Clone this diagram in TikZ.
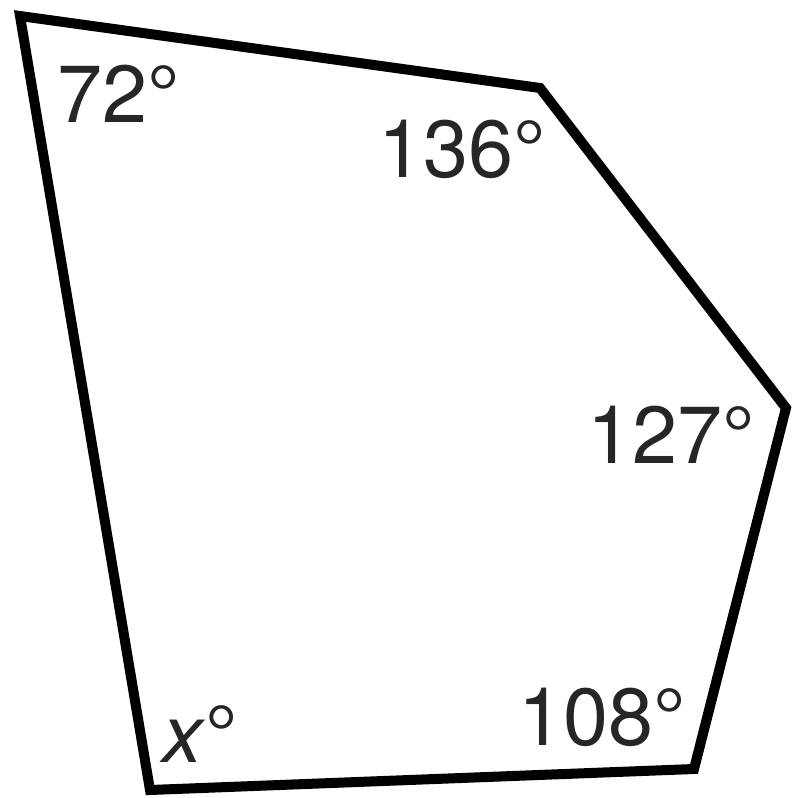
\documentclass[tikz,border=0pt]{standalone}
\usepackage{fontspec}
\setmainfont{TeX Gyre Heros}
\begin{document}
\begin{tikzpicture}[x=1pt,y=-1pt,
  lbl/.style={anchor=base west,inner sep=0pt,font=\fontsize{81}{84}\selectfont,text=black!85}]
\useasboundingbox (0,0) rectangle (793,798);
\coordinate (A) at (20,16);
\coordinate (B) at (540,88);
\coordinate (C) at (786,408);
\coordinate (D) at (694,769);
\coordinate (E) at (150,790);
\draw[line width=10pt,line join=miter] (A) -- (B) -- (C) -- (D) -- (E) -- cycle;
\node[lbl] (a) at (57,122) {72°};
\node[lbl] (b) at (378,177) {136°};
\node[lbl] (c) at (587,463) {127°};
\node[lbl] (d) at (518,745) {108°};
\node[lbl] (e) at (162,762) {\textit{x}°};
\end{tikzpicture}
\end{document}
